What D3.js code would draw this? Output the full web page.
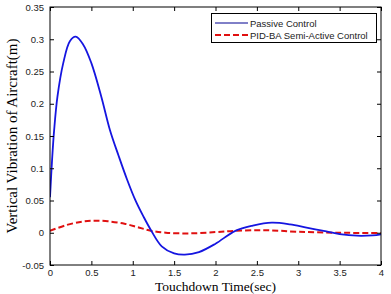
<!DOCTYPE html>
<html><head><meta charset="utf-8">
<script src="https://cdn.jsdelivr.net/npm/d3@7"></script>
<style>body{margin:0;background:#fff}svg{display:block}</style>
</head><body>
<svg id="c" width="391" height="294"></svg>
<script>
const xTicks = [0, 0.5, 1, 1.5, 2, 2.5, 3, 3.5, 4];
const xTickLabels = ["0", "0.5", "1", "1.5", "2", "2.5", "3", "3.5", "4"];
const yTicks = [-0.05, 0, 0.05, 0.1, 0.15, 0.2, 0.25, 0.3, 0.35];
const yTickLabels = ["-0.05", "0", "0.05", "0.1", "0.15", "0.2", "0.25", "0.3", "0.35"];
const seriesNames = ["Passive Control", "PID-BA Semi-Active Control"];

const passiveT = [0, 0.025, 0.05, 0.09, 0.16, 0.24, 0.31, 0.40, 0.50, 0.62, 0.725, 0.83, 0.93, 1.03, 1.13, 1.22, 1.35, 1.5, 1.63, 1.8, 2.0, 2.24, 2.45, 2.68, 2.9, 3.1, 3.34, 3.5, 3.71, 3.9, 4.0];
const passiveV = [0.055, 0.113, 0.159, 0.211, 0.263, 0.297, 0.304, 0.292, 0.263, 0.211, 0.159, 0.119, 0.083, 0.051, 0.025, 0.004, -0.021, -0.032, -0.034, -0.030, -0.017, 0.003, 0.011, 0.0156, 0.013, 0.008, 0.002, -0.002, -0.0046, -0.004, -0.0024];

const pidT = [0, 0.2, 0.4, 0.54, 0.7, 0.9, 1.05, 1.22, 1.4, 1.69, 2.0, 2.24, 2.6, 3.0, 3.5, 4.0];
const pidV = [0.003, 0.012, 0.0175, 0.0187, 0.0178, 0.014, 0.009, 0.003, 0.0, -0.001, 0.001, 0.003, 0.004, 0.0015, 0.0, -0.0004];

const svg = d3.select("#c");
const L = 50, R = 381, T = 7, B = 265;
const x = d3.scaleLinear().domain([0, 4]).range([L, R]);
const y = d3.scaleLinear().domain([-0.05, 0.35]).range([B, T]);

svg.append("clipPath").attr("id", "clp").append("rect")
  .attr("x", L).attr("y", T).attr("width", R - L).attr("height", B - T);

const line = d3.line().x(d => x(d[0])).y(d => y(d[1])).curve(d3.curveCatmullRom.alpha(0.5));

const g = svg.append("g").attr("clip-path", "url(#clp)");
g.append("path").datum(pidT.map((t, i) => [t, pidV[i]]))
  .attr("d", line).attr("fill", "none").attr("stroke", "#e01010")
  .attr("stroke-width", 2).attr("stroke-dasharray", "6,3");
g.append("path").datum(passiveT.map((t, i) => [t, passiveV[i]]))
  .attr("d", line).attr("fill", "none").attr("stroke", "#1515e0")
  .attr("stroke-width", 1.8);

// axes
const fmtX = (d, i) => xTickLabels[i];
const fmtY = (d, i) => yTickLabels[i];
const axB = svg.append("g").attr("transform", `translate(0,${B})`)
  .call(d3.axisBottom(x).tickValues(xTicks).tickFormat(fmtX).tickSizeInner(-4).tickSizeOuter(0).tickPadding(4));
const axL = svg.append("g").attr("transform", `translate(${L},0)`)
  .call(d3.axisLeft(y).tickValues(yTicks).tickFormat(fmtY).tickSizeInner(-4).tickSizeOuter(0).tickPadding(6));
const axT = svg.append("g").attr("transform", `translate(0,${T})`)
  .call(d3.axisTop(x).tickValues(xTicks).tickFormat("").tickSizeInner(-4).tickSizeOuter(0));
const axR = svg.append("g").attr("transform", `translate(${R},0)`)
  .call(d3.axisRight(y).tickValues(yTicks).tickFormat("").tickSizeInner(-4).tickSizeOuter(0));
[axB, axL, axT, axR].forEach(a => {
  a.selectAll(".domain").remove();
  a.selectAll("line").attr("stroke", "#000");
  a.selectAll("text").attr("font-family", "Liberation Sans, Arial, sans-serif").attr("font-size", 9.5).attr("fill", "#222");
});
svg.append("rect").attr("x", L).attr("y", T).attr("width", R - L).attr("height", B - T)
  .attr("fill", "none").attr("stroke", "#000").attr("stroke-width", 1);

// legend
const lg = svg.append("g");
lg.append("rect").attr("x", 211.5).attr("y", 13.5).attr("width", 165).attr("height", 29)
  .attr("fill", "#fff").attr("stroke", "#000").attr("stroke-width", 1);
const legendStyles = [{c: "#000090", w: 1, d: null}, {c: "#e01010", w: 2, d: "6,3"}];
seriesNames.forEach((n, i) => {
  const yy = 23 + i * 12;
  const ln = lg.append("line").attr("x1", 215).attr("x2", 248).attr("y1", yy).attr("y2", yy)
    .attr("stroke", legendStyles[i].c).attr("stroke-width", legendStyles[i].w);
  if (legendStyles[i].d) ln.attr("stroke-dasharray", legendStyles[i].d);
  lg.append("text").attr("x", 250).attr("y", yy + 3.5).text(n)
    .attr("font-family", "Liberation Sans, Arial, sans-serif").attr("font-size", 9.5).attr("fill", "#222");
});

// axis labels
svg.append("text").attr("x", x(2)).attr("y", 291).attr("text-anchor", "middle")
  .attr("font-family", "Liberation Serif, Times New Roman, serif").attr("font-size", 13.5)
  .text("Touchdown Time(sec)");
svg.append("text").attr("transform", `translate(17,${(T + B) / 2}) rotate(-90)`)
  .attr("text-anchor", "middle")
  .attr("font-family", "Liberation Serif, Times New Roman, serif").attr("font-size", 15)
  .text("Vertical Vibration of Aircraft(m)");
</script>
</body></html>
